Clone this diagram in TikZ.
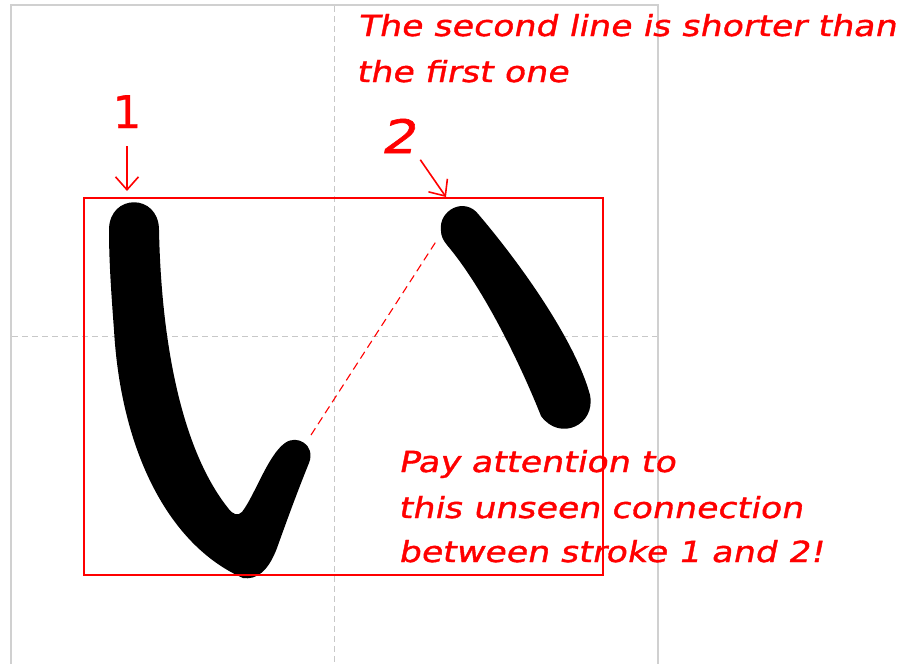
\documentclass[tikz,border=0pt]{standalone}
\usepackage{fontspec}
\usetikzlibrary{arrows.meta}
\newfontfamily\hand[FakeSlant=0.2,FakeStretch=1.2,FakeBold=1.3]{DejaVu Sans}
\newfontfamily\plainfont[FakeBold=0.8]{DejaVu Sans}
\definecolor{markred}{RGB}{255,0,0}
\definecolor{guidegray}{RGB}{200,200,200}
\definecolor{framegray}{RGB}{208,208,208}
\tikzset{
  note/.style={inner sep=0pt, anchor=base west, text=markred, font=\hand\fontsize{29}{45}\selectfont},
  numlabel/.style={inner sep=0pt, anchor=base, text=markred},
  pointer/.style={draw=markred, line width=1.6pt, -{Straight Barb[length=13pt,width=23pt,line width=1.6pt]}},
  guide/.style={draw=guidegray, line width=0.9pt, dash pattern=on 6pt off 4pt},
  frameline/.style={draw=framegray, line width=2.4pt},
  redbox/.style={draw=markred, line width=2pt},
  hidden/.style={draw=markred, line width=1.1pt, dash pattern=on 8pt off 5pt},
  brush/.style={fill=black}
}
\begin{document}
\begin{tikzpicture}[x=1pt,y=-1pt]
\useasboundingbox (0,0) rectangle (916,664);
% outer frame and guide lines
\draw[frameline] (11,670) -- (11,5) -- (658,5) -- (658,670);
\draw[guide] (334,6) -- (334,664);
\draw[guide] (12,336) -- (657,336);
% stroke 1
\fill[brush] (109,230) .. controls (109,193) and (159,193) .. (159,230)
 .. controls (161,330) and (178,445) .. (228,508)
 .. controls (233,515) and (238,516) .. (242,512)
 .. controls (255,495) and (268,455) .. (285,443)
 .. controls (297,434) and (316,445) .. (309,463)
 .. controls (298,490) and (287,520) .. (277,548)
 .. controls (268,572) and (256,580) .. (243,578)
 .. controls (168,545) and (121,450) .. (114,330)
 .. controls (111,290) and (109,260) .. (109,230) -- cycle;
% stroke 2
\fill[brush] (441,231) .. controls (438,210) and (465,196) .. (479,215)
 .. controls (524,268) and (576,343) .. (590,395)
 .. controls (596,425) and (560,442) .. (541,416)
 .. controls (522,368) and (485,290) .. (447,245)
 .. controls (443,240) and (441,236) .. (441,231) -- cycle;
% red box
\draw[redbox] (84,198) rectangle (603,575);
% hidden connection
\coordinate (end1) at (311,435);
\coordinate (start2) at (437,240);
\draw[hidden] (end1) -- (start2);
% stroke numbers
\node[numlabel, font=\plainfont\fontsize{45}{45}\selectfont] (n1) at (127,128) {1};
\node[numlabel, font=\hand\fontsize{46}{46}\selectfont] (n2) at (398,153) {2};
\coordinate (tip1) at (127,191);
\coordinate (tip2) at (446,197);
\draw[pointer, shorten <=18pt] (n1.south) -- (tip1);
\draw[pointer, shorten <=8pt] (n2.south east) -- (tip2);
% notes
\node[note] (t1a) at (357,36) {The second line is shorter than};
\node[note] (t1b) at (356,82) {the first one};
\node[note] (t2a) at (398,472) {Pay attention to};
\node[note] (t2b) at (398,518) {this unseen connection};
\node[note] (t2c) at (398,562) {between stroke 1 and 2!};
\end{tikzpicture}
\end{document}
